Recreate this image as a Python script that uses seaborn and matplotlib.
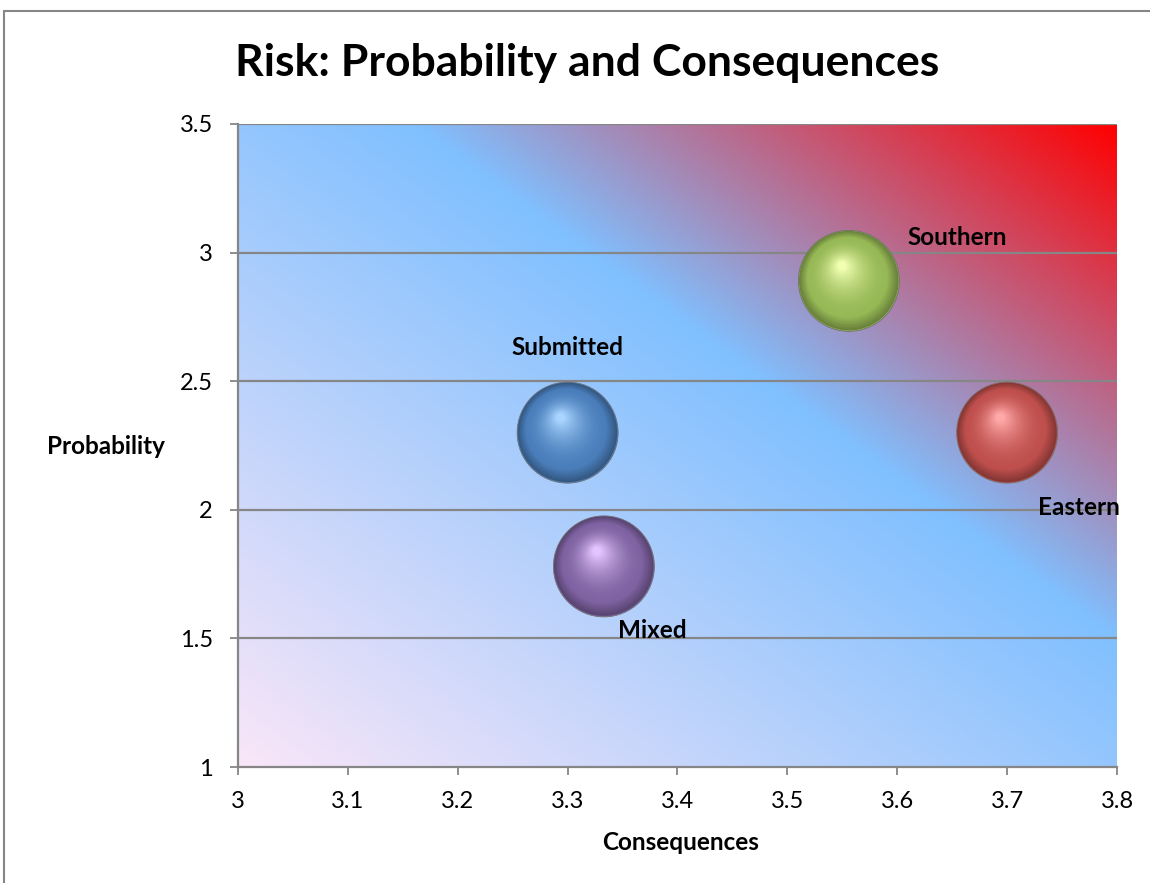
import numpy as np
import pandas as pd
import matplotlib
matplotlib.use("Agg")
import matplotlib.pyplot as plt
import matplotlib.transforms as mtransforms
from matplotlib.colors import to_rgb
import seaborn as sns

# Risk data: consequence score vs probability score per region
names = ["Submitted", "Mixed", "Southern", "Eastern"]
consequences = [3.30, 3.333, 3.556, 3.70]
probability = [2.30, 1.78, 2.89, 2.30]
bubble_size = [1.0, 1.0, 1.0, 1.0]

x_ticks = [3, 3.1, 3.2, 3.3, 3.4, 3.5, 3.6, 3.7, 3.8]
y_ticks = [1, 1.5, 2, 2.5, 3, 3.5]
x_tick_labels = ["3", "3.1", "3.2", "3.3", "3.4", "3.5", "3.6", "3.7", "3.8"]
y_tick_labels = ["1", "1.5", "2", "2.5", "3", "3.5"]

base_colors = ["#4A7EBB", "#7E62A1", "#96B855", "#BE4F4C"]
highlight_colors = ["#A8D4FF", "#E4C4FF", "#F0FFB0", "#FFA8A8"]
# label offsets (points) from bubble centres
label_offsets = [(0, 61), (35, -46), (78, 31), (52, -54)]

df = pd.DataFrame({"name": names, "consequences": consequences,
                   "probability": probability, "size": bubble_size})

sns.set_theme(style="white")
plt.rcParams["font.family"] = ["Lato", "DejaVu Sans"]
plt.rcParams["text.color"] = "black"

fig = plt.figure(figsize=(11.5, 8.83), dpi=100)
ax = fig.add_axes([238 / 1150, 1 - 767 / 883, (1117 - 238) / 1150, (767 - 124) / 883])

# diagonal gradient background: pink -> light blue -> red
n = 400
u = np.linspace(0, 1, n)
U, V = np.meshgrid(u, u)
t = (U + V) / 2
stops = [(0.0, to_rgb("#FAE6F8")), (0.6, to_rgb("#80C0FF")), (1.0, to_rgb("#FF0000"))]
img = np.zeros((n, n, 3))
for c in range(3):
    img[..., c] = np.interp(t, [s[0] for s in stops], [s[1][c] for s in stops])
ax.imshow(img, extent=(0, 1, 0, 1), origin="lower", transform=ax.transAxes,
          aspect="auto", zorder=0, interpolation="bilinear")

ax.set_xlim(3, 3.8)
ax.set_ylim(1, 3.5)

# horizontal gridlines
for yv in y_ticks[1:]:
    ax.axhline(yv, color="#868686", lw=1.6, zorder=1)

# bubbles: base disc drawn by seaborn, then shaded layers for a 3D look
diam_pt = 72.7
sns.scatterplot(data=df, x="consequences", y="probability", hue="name",
                palette=base_colors, s=diam_pt ** 2, legend=False,
                edgecolor="#707070", linewidth=0.6, zorder=3, ax=ax)

def mix(a, b, w):
    a, b = np.array(to_rgb(a)), np.array(to_rgb(b))
    return tuple(a * (1 - w) + b * w)

n_layers = 40
hl_dir = np.array([-0.15, 0.33])
for i in range(n_layers):
    f = i / (n_layers - 1)
    scale = 0.985 - 0.9 * f
    d = diam_pt * scale
    off = hl_dir * (diam_pt / 2) * (1 - scale)
    tr = mtransforms.offset_copy(ax.transData, fig=fig, x=off[0], y=off[1], units="points")
    cols = []
    for bc, hc in zip(base_colors, highlight_colors):
        if f < 0.2:
            cols.append(mix(mix(bc, "#000000", 0.3), bc, f / 0.2))
        else:
            cols.append(mix(bc, hc, ((f - 0.2) / 0.8) ** 1.8))
    ax.scatter(consequences, probability, s=d ** 2, c=cols, linewidths=0,
               transform=tr, zorder=4 + i * 0.001)

for name, xv, yv, (dx, dy) in zip(names, consequences, probability, label_offsets):
    ax.annotate(name, (xv, yv), xytext=(dx, dy), textcoords="offset points",
                ha="center", va="center", fontsize=17.5, fontweight="bold",
                color="black", zorder=6)

ax.set_xticks(x_ticks)
ax.set_xticklabels(x_tick_labels)
ax.set_yticks(y_ticks)
ax.set_yticklabels(y_tick_labels)
ax.tick_params(axis="both", direction="out", length=6, width=1.3, color="#868686",
               labelsize=17, labelcolor="black")
ax.tick_params(axis="x", bottom=True, pad=11)
ax.tick_params(axis="y", left=True, pad=12)

for side in ["top", "right"]:
    ax.spines[side].set_visible(False)
for side in ["left", "bottom"]:
    ax.spines[side].set_color("#868686")
    ax.spines[side].set_linewidth(1.6)
    ax.spines[side].set_zorder(2)

ax.set_xlabel("Consequences", fontsize=17.5, fontweight="bold", color="black",
              va="center")
ax.xaxis.set_label_coords((681 - 238) / (1117 - 238), -(842 - 767) / (767 - 124))
ax.set_ylabel("Probability", fontsize=17.5, fontweight="bold", rotation=0,
              ha="center", va="center", color="black")
ax.yaxis.set_label_coords((106 - 238) / (1117 - 238), (767 - 447) / (767 - 124))

fig.text(235 / 1150, 1 - 63 / 883, "Risk: Probability and Consequences",
         fontsize=32, fontweight="bold", ha="left", va="center", color="black")

# chart-area frame
fig.add_artist(plt.Line2D([4 / 1150, 1.0], [1 - 11 / 883, 1 - 11 / 883],
                          color="#868686", lw=1.5, transform=fig.transFigure))
fig.add_artist(plt.Line2D([4 / 1150, 4 / 1150], [0, 1 - 11 / 883],
                          color="#868686", lw=1.5, transform=fig.transFigure))

fig.savefig("out.png", dpi=100)
